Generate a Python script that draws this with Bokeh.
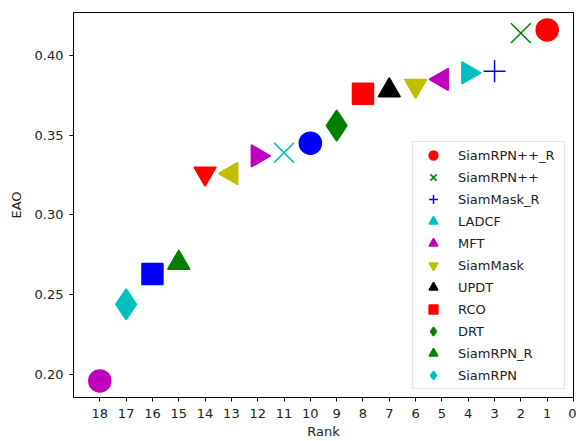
import math
from bokeh.plotting import figure
from bokeh.models import (ColumnDataSource, Range1d, FixedTicker, PrintfTickFormatter,
                          Legend, LegendItem)
from bokeh.embed import file_html
from bokeh.resources import INLINE

# ---- data ----
ranks = [1, 2, 3, 4, 5, 6, 7, 8, 9, 10, 11, 12, 13, 14, 15, 16, 17, 18]
eao = [0.416, 0.414, 0.390, 0.389, 0.385, 0.381, 0.378, 0.376, 0.356,
       0.345, 0.339, 0.337, 0.326, 0.326, 0.270, 0.263, 0.244, 0.196]
colors = ["r", "g", "b", "c", "m", "y", "k", "r", "g",
          "b", "c", "m", "y", "r", "g", "b", "c", "m"]
shapes = ["o", "x", "+", ">", "<", "v", "^", "s", "d",
          "o", "x", ">", "<", "v", "^", "s", "d", "o"]
legend_labels = ["SiamRPN++_R", "SiamRPN++", "SiamMask_R", "LADCF", "MFT",
                 "SiamMask", "UPDT", "RCO", "DRT", "SiamRPN_R", "SiamRPN"]
legend_ranks = [1, 2, 3, 4, 5, 6, 7, 8, 9, 15, 17]
x_ticks = list(range(0, 19))
y_ticks = [0.20, 0.25, 0.30, 0.35, 0.40]

# ---- styles ----
color_map = {"r": "#ff0000", "g": "#008000", "b": "#0000ff", "c": "#00bfbf",
             "m": "#bf00bf", "y": "#bfbf00", "k": "#000000"}
shape_map = {  # bokeh marker, angle, size
    "o": ("circle", 0.0, 22),
    "x": ("x", 0.0, 28),
    "+": ("cross", 0.0, 22),
    ">": ("triangle", -math.pi / 2, 22),
    "<": ("triangle", math.pi / 2, 22),
    "v": ("inverted_triangle", 0.0, 22),
    "^": ("triangle", 0.0, 22),
    "s": ("square", 0.0, 21),
    "d": ("diamond", 0.0, 31),
}

src = ColumnDataSource(dict(
    x=ranks,
    y=eao,
    color=[color_map[c] for c in colors],
    marker=[shape_map[s][0] for s in shapes],
    angle=[shape_map[s][1] for s in shapes],
    size=[shape_map[s][2] for s in shapes],
))

p = figure(width=576, height=441, output_backend="svg", toolbar_location=None,
           x_range=Range1d(19, 0), y_range=Range1d(0.1856, 0.4269),
           min_border_left=73, min_border_right=3, min_border_top=12,
           min_border_bottom=44)
p.background_fill_color = "white"
p.border_fill_color = "white"
p.grid.visible = False
p.outline_line_color = "black"
p.outline_line_width = 1

r = p.scatter(x="x", y="y", source=src, marker="marker", size="size", angle="angle",
              fill_color="color", line_color="color", line_width=1.5)

for ax in (p.xaxis[0], p.yaxis[0]):
    ax.axis_line_color = "black"
    ax.major_tick_line_color = "black"
    ax.major_tick_in = 0
    ax.major_tick_out = 4
    ax.minor_tick_line_color = None
    ax.major_label_text_font = "DejaVu Sans"
    ax.major_label_text_font_size = "13px"
    ax.major_label_text_color = "#222222"
    ax.axis_label_text_font = "DejaVu Sans"
    ax.axis_label_text_font_size = "13px"
    ax.axis_label_text_font_style = "normal"
    ax.axis_label_text_color = "#222222"

p.xaxis[0].ticker = FixedTicker(ticks=x_ticks)
p.xaxis[0].axis_label = "Rank"
p.xaxis[0].major_label_standoff = 7
p.xaxis[0].axis_label_standoff = 3
p.yaxis[0].ticker = FixedTicker(ticks=y_ticks)
p.yaxis[0].formatter = PrintfTickFormatter(format="%.2f")
p.yaxis[0].axis_label = "EAO"
p.yaxis[0].major_label_standoff = 6
p.yaxis[0].axis_label_standoff = 8

items = [LegendItem(label=lab, renderers=[r], index=rk - 1)
         for lab, rk in zip(legend_labels, legend_ranks)]
legend = Legend(items=items, location="bottom_right", glyph_width=36, glyph_height=22,
                label_height=22, label_width=104, spacing=0, padding=2, label_standoff=7,
                label_text_font="DejaVu Sans", label_text_font_size="13px",
                label_text_color="#222222",
                border_line_color="#cccccc", border_line_width=1,
                background_fill_color="white", background_fill_alpha=0.8, margin=8)
p.add_layout(legend)

open("out.html", "w").write(file_html(p, INLINE))
